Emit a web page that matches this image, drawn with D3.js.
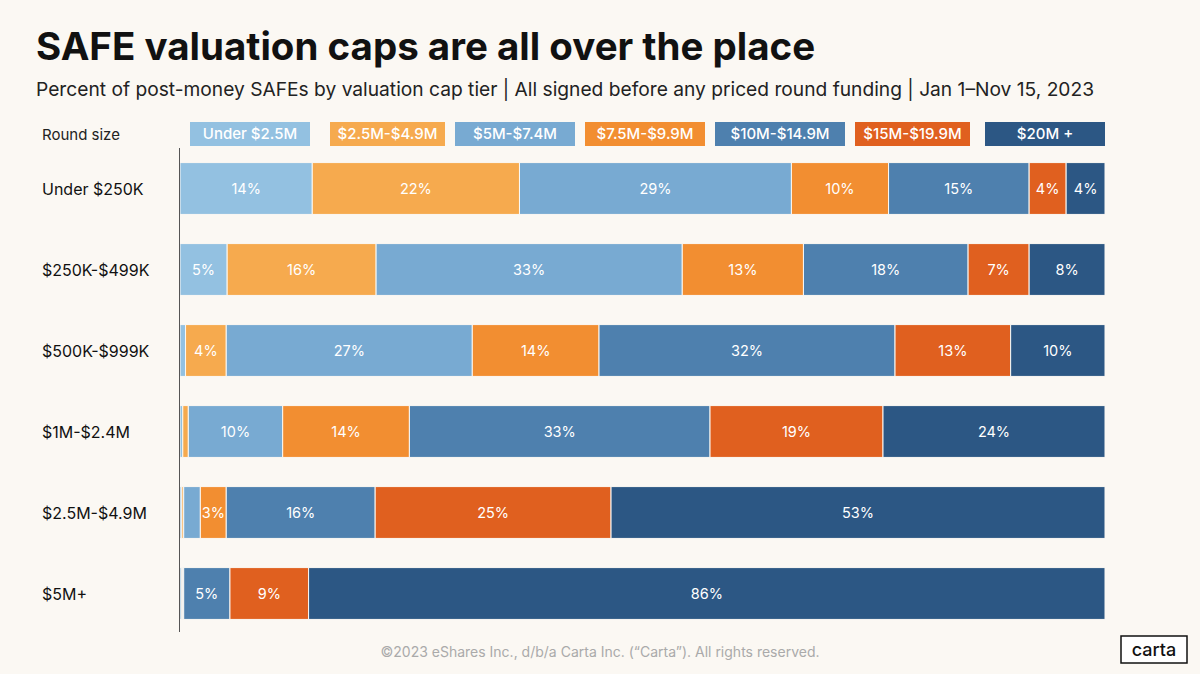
<!DOCTYPE html>
<html><head><meta charset="utf-8">
<script src="https://cdn.jsdelivr.net/npm/d3@7"></script>
<style>body{margin:0;background:#fbf8f3;font-family:Inter,"Open Sans",sans-serif;}</style>
</head><body><svg id="c" width="1200" height="674"></svg>
<script>
const rounds = ["Under $250K","$250K-$499K","$500K-$999K","$1M-$2.4M","$2.5M-$4.9M","$5M+"];
const tiers = ["Under $2.5M","$2.5M-$4.9M","$5M-$7.4M","$7.5M-$9.9M","$10M-$14.9M","$15M-$19.9M","$20M +"];
const colors = ["#93c1e1","#f6aa4e","#78aad2","#f28e31","#4e80ae","#e0601f","#2c5784"];
const values = [
  [14.3,22.4,29.4,10.5,15.2,4.0,4.2],
  [5.1,16.1,33.1,13.1,17.8,6.6,8.2],
  [0.6,4.4,26.6,13.7,32.0,12.5,10.2],
  [0.3,0.6,10.2,13.7,32.5,18.7,24.0],
  [0.2,0.2,1.8,2.8,16.1,25.5,53.4],
  [0.2,0.1,0.1,0,5.0,8.5,86.1]
];
const labels = [
  ["14%","22%","29%","10%","15%","4%","4%"],
  ["5%","16%","33%","13%","18%","7%","8%"],
  ["","4%","27%","14%","32%","13%","10%"],
  ["","","10%","14%","33%","19%","24%"],
  ["","","","3%","16%","25%","53%"],
  ["","","","","5%","9%","86%"]
];
const legendX = [190,330,455,585,715,855,985];
const legendW = [120,115,120,120,130,115,120];

const svg = d3.select("#c");
svg.append("text").attr("x",36).attr("y",60).attr("font-size",38.5).attr("font-weight",700).attr("fill","#111").text("SAFE valuation caps are all over the place");
svg.append("text").attr("x",36).attr("y",96).attr("font-size",19.2).attr("fill","#222").text("Percent of post-money SAFEs by valuation cap tier | All signed before any priced round funding | Jan 1–Nov 15, 2023");
svg.append("text").attr("x",42).attr("y",140).attr("font-size",15).attr("fill","#222").text("Round size");

tiers.forEach((t,i)=>{
  svg.append("rect").attr("x",legendX[i]).attr("y",122).attr("width",legendW[i]).attr("height",24).attr("fill",colors[i]);
  svg.append("text").attr("x",legendX[i]+legendW[i]/2).attr("y",139).attr("text-anchor","middle").attr("font-size",15).attr("font-weight",500).attr("fill","#fff").text(t);
});

const x = d3.scaleLinear().domain([0,100]).range([180,1105]);
const y = d3.scaleBand().domain(rounds).range([148,634]).paddingInner(0.36).paddingOuter(0.18);

rounds.forEach((r,ri)=>{
  let acc=0;
  const sum=d3.sum(values[ri]);
  values[ri].forEach((v,ti)=>{
    const a=acc/sum*100, b=(acc+v)/sum*100; acc+=v;
    if(v<=0) return;
    svg.append("rect").attr("x",x(a)).attr("y",y(r)).attr("width",x(b)-x(a)).attr("height",y.bandwidth()).attr("fill",colors[ti]).attr("stroke","#fbf8f3").attr("stroke-width",1);
    if(labels[ri][ti]) svg.append("text").attr("x",(x(a)+x(b))/2).attr("y",y(r)+y.bandwidth()/2+5).attr("text-anchor","middle").attr("font-size",14.5).attr("fill","#fff").text(labels[ri][ti]);
  });
  svg.append("text").attr("x",42).attr("y",y(r)+y.bandwidth()/2+6).attr("font-size",16).attr("fill","#111").text(r);
});
svg.append("line").attr("x1",179.5).attr("x2",179.5).attr("y1",148).attr("y2",632).attr("stroke","#555").attr("stroke-width",1);

svg.append("text").attr("x",600).attr("y",657).attr("text-anchor","middle").attr("font-size",14).attr("fill","#aaa").text("©2023 eShares Inc., d/b/a Carta Inc. (“Carta”). All rights reserved.");
svg.append("rect").attr("x",1121).attr("y",636).attr("width",66).attr("height",27).attr("fill","#fff").attr("stroke","#111").attr("stroke-width",1.5);
svg.append("text").attr("x",1154).attr("y",656).attr("text-anchor","middle").attr("font-size",18).attr("font-weight",500).attr("fill","#111").text("carta");
</script></body></html>
